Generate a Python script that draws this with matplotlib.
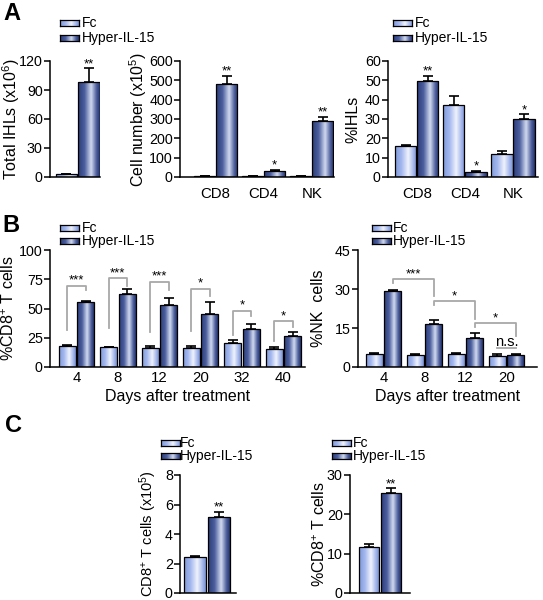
import numpy as np
import matplotlib
matplotlib.use('Agg')
import matplotlib.pyplot as plt
from matplotlib.colors import LinearSegmentedColormap

plt.rcParams['font.family'] = ['Liberation Sans', 'DejaVu Sans']
plt.rcParams['mathtext.fontset'] = 'custom'
plt.rcParams['mathtext.rm'] = 'Liberation Sans'
plt.rcParams['mathtext.it'] = 'Liberation Sans:italic'
plt.rcParams['mathtext.bf'] = 'Liberation Sans:bold'

# ---------------- data ----------------
series = ['Fc', 'Hyper-IL-15']

a1_fc, a1_fc_err = [2.8], [0.7]
a1_hy, a1_hy_err = [98.6], [13.8]
a1_sig = ['**']

a_cats = ['CD8', 'CD4', 'NK']
a2_fc, a2_fc_err = [3.5, 5.0, 3.5], [1.0, 1.5, 1.0]
a2_hy, a2_hy_err = [481, 29, 291], [43, 6, 20]
a2_sig = ['**', '*', '**']

a3_fc, a3_fc_err = [15.9, 37.4, 11.7], [0.4, 4.5, 1.7]
a3_hy, a3_hy_err = [49.7, 2.6, 30.0], [2.4, 0.5, 2.4]
a3_sig = ['**', '*', '*']

b_days = ['4', '8', '12', '20', '32', '40']
b_cd8_fc, b_cd8_fc_err = [17.6, 16.8, 16.2, 16.2, 20.5, 15.6], [1.2, 0.5, 1.4, 1.4, 2.2, 1.2]
b_cd8_hy, b_cd8_hy_err = [55.4, 62.2, 53.1, 45.5, 32.7, 26.7], [1.4, 4.3, 6.3, 10.2, 4.2, 3.1]
b_cd8_sig = ['***', '***', '***', '*', '*', '*']
b_cd8_br_top = [69.3, 75.9, 73.0, 66.8, 48.0, 38.9]
b_cd8_br_left = [32.0, 33.0, 30.0, 31.0, 27.6, 21.9]
b_cd8_br_right = [65.5, 69.0, 66.0, 60.5, 43.7, 34.0]

b_nk_days = ['4', '8', '12', '20']
b_nk_fc, b_nk_fc_err = [5.1, 4.5, 5.1, 4.2], [0.2, 0.6, 0.4, 0.9]
b_nk_hy, b_nk_hy_err = [29.1, 16.7, 11.2, 4.5], [0.6, 1.4, 1.7, 0.4]
b_nk_sig = ['***', '*', '*']
b_nk_br_top = [33.8, 25.3, 16.9]
b_nk_br_left = [32.3, 24.0, 15.4]
b_nk_br_right = [27.2, 18.6, 11.8]
b_nk_ns_y = 7.3

c_num_fc, c_num_fc_err = [2.43], [0.09]
c_num_hy, c_num_hy_err = [5.13], [0.37]
c_pct_fc, c_pct_fc_err = [11.8], [0.7]
c_pct_hy, c_pct_hy_err = [25.4], [1.2]

# ---------------- style ----------------
W, H = 543, 600
fig = plt.figure(figsize=(W / 100, H / 100), dpi=100)

cmap_fc = LinearSegmentedColormap.from_list('fc', [
    (0.0, '#8099d8'), (0.3, '#a4b8ee'), (0.6, '#f0f3fd'), (0.85, '#a3b6ea'), (1.0, '#7890d4')])
cmap_hy = LinearSegmentedColormap.from_list('hy', [
    (0.0, '#2c3b78'), (0.3, '#4b5e9e'), (0.6, '#d2daf0'), (0.85, '#4a5c9a'), (1.0, '#25336c')])
grad = np.linspace(0, 1, 256).reshape(1, -1)
GRAY = '#a8a8a8'
TICK_FS = 10.3
LAB_FS = 11.5
STAR_FS = 9.5


def px_axes(x0, y0, x1, y1):
    return fig.add_axes([x0 / W, 1 - y1 / H, (x1 - x0) / W, (y1 - y0) / H])


def grad_bars(ax, xs, vals, errs, width, cmap):
    bars = ax.bar(xs, vals, width, facecolor='none', edgecolor='black', linewidth=0.9, zorder=3)
    for b in bars:
        x0, w, h = b.get_x(), b.get_width(), b.get_height()
        im = ax.imshow(grad, extent=[x0, x0 + w, 0, h], aspect='auto', cmap=cmap,
                       interpolation='bilinear', zorder=2)
        im.set_clip_path(b)
    ax.errorbar(xs, vals, yerr=[np.zeros(len(vals)), errs], fmt='none', ecolor='black',
                elinewidth=1.2, capsize=3.3, capthick=1.2, zorder=4)


def style_axes(ax, yticks, ylim, xlim, ylabel, label_x_px, ax_x0, ax_x1, xpad, lab_fs=LAB_FS):
    ax.set_xlim(*xlim)
    ax.set_ylim(*ylim)
    ax.set_yticks(yticks)
    for s in ['top', 'right']:
        ax.spines[s].set_visible(False)
    for s in ['left', 'bottom']:
        ax.spines[s].set_linewidth(1.1)
    ax.tick_params(axis='y', direction='out', length=4, width=1.1, labelsize=TICK_FS, pad=1.2)
    ax.tick_params(axis='x', length=0, labelsize=TICK_FS + 0.5, pad=xpad)
    ax.set_ylabel(ylabel, fontsize=lab_fs, va='center')
    ax.yaxis.set_label_coords((label_x_px - ax_x0) / (ax_x1 - ax_x0), 0.5)


def star(ax, x, y, s, fs=STAR_FS, off=1.0):
    ax.annotate(s, (x, y), xytext=(0, off), textcoords='offset points',
                ha='center', va='baseline', fontsize=fs)


def legend(xp0, yc1, yc2, xt, pw=19, ph=6, fs=10):
    for yc, cm, name in [(yc1, cmap_fc, series[0]), (yc2, cmap_hy, series[1])]:
        lax = px_axes(xp0, yc - ph / 2, xp0 + pw, yc + ph / 2)
        lax.imshow(grad, aspect='auto', cmap=cm, extent=[0, 1, 0, 1], interpolation='bilinear')
        lax.set_xticks([]); lax.set_yticks([])
        for s in lax.spines.values():
            s.set_linewidth(0.9)
        fig.text(xt / W, 1 - yc / H, name, fontsize=fs, va='center', ha='left')


# ---------------- Panel A ----------------
ax = px_axes(50, 61, 100, 177)
grad_bars(ax, [0], a1_fc, a1_fc_err, 0.92, cmap_fc)
grad_bars(ax, [1], a1_hy, a1_hy_err, 0.92, cmap_hy)
style_axes(ax, [0, 30, 60, 90, 120], (0, 120), (-0.70, 1.48), 'Total IHLs (x10$^{6}$)', 11, 50, 100, 6)
ax.set_xticks([])
star(ax, 1, a1_hy[0] + a1_hy_err[0], a1_sig[0])

off = 0.229
xa = np.arange(len(a_cats))
ax = px_axes(180, 61, 334, 177)
grad_bars(ax, xa - off, a2_fc, a2_fc_err, 0.44, cmap_fc)
grad_bars(ax, xa + off, a2_hy, a2_hy_err, 0.44, cmap_hy)
style_axes(ax, range(0, 601, 100), (0, 600), (-0.74, 2.46), 'Cell number (x10$^{5}$)', 138, 180, 334, 7)
ax.set_xticks(xa)
ax.set_xticklabels(a_cats)
for i in range(len(a_cats)):
    star(ax, xa[i] + off, a2_hy[i] + a2_hy_err[i], a2_sig[i])

ax = px_axes(388, 61, 538, 177)
grad_bars(ax, xa - off, a3_fc, a3_fc_err, 0.44, cmap_fc)
grad_bars(ax, xa + off, a3_hy, a3_hy_err, 0.44, cmap_hy)
style_axes(ax, range(0, 61, 10), (0, 60), (-0.60, 2.52), '%IHLs', 353, 388, 538, 7)
ax.set_xticks(xa)
ax.set_xticklabels(a_cats)
for i in range(len(a_cats)):
    star(ax, xa[i] + off, a3_hy[i] + a3_hy_err[i], a3_sig[i])

legend(60, 23, 38, 82)
legend(393, 23, 38, 415)
fig.text(3 / W, 1 - 14 / H, 'A', fontsize=17, fontweight='bold', va='center', ha='left')

# ---------------- Panel B ----------------
offb = 0.223
xb = np.arange(len(b_days))
ax = px_axes(50, 250, 305, 367)
grad_bars(ax, xb - offb, b_cd8_fc, b_cd8_fc_err, 0.41, cmap_fc)
grad_bars(ax, xb + offb, b_cd8_hy, b_cd8_hy_err, 0.41, cmap_hy)
style_axes(ax, [0, 25, 50, 75, 100], (0, 100), (-0.64, 5.52), '%CD8$^{+}$ T cells', 9, 50, 305, 3)
ax.set_xticks(xb)
ax.set_xticklabels(b_days)
ax.set_xlabel('Days after treatment', fontsize=LAB_FS, labelpad=2.5)
for i in range(len(b_days)):
    xl, xr = xb[i] - offb, xb[i] + offb
    ax.plot([xl, xl, xr, xr], [b_cd8_br_left[i], b_cd8_br_top[i], b_cd8_br_top[i], b_cd8_br_right[i]],
            color=GRAY, lw=1.3, zorder=1)
    star(ax, xb[i], b_cd8_br_top[i], b_cd8_sig[i], off=1.5)

xn = np.arange(len(b_nk_days))
ax = px_axes(358, 250, 537, 367)
grad_bars(ax, xn - offb, b_nk_fc, b_nk_fc_err, 0.41, cmap_fc)
grad_bars(ax, xn + offb, b_nk_hy, b_nk_hy_err, 0.41, cmap_hy)
style_axes(ax, [0, 15, 30, 45], (0, 45), (-0.62, 3.74), '%NK  cells', 318.5, 358, 537, 3)
ax.set_xticks(xn)
ax.set_xticklabels(b_nk_days)
ax.set_xlabel('Days after treatment', fontsize=LAB_FS, labelpad=2.5)
for i in range(len(b_nk_sig)):
    xl, xr = xn[i] + offb, xn[i + 1] + offb
    ax.plot([xl, xl, xr, xr], [b_nk_br_left[i], b_nk_br_top[i], b_nk_br_top[i], b_nk_br_right[i]],
            color=GRAY, lw=1.3, zorder=1)
    star(ax, (xl + xr) / 2, b_nk_br_top[i], b_nk_sig[i], off=1.5)
ax.plot([xn[-1] - offb, xn[-1] + offb], [b_nk_ns_y, b_nk_ns_y], color=GRAY, lw=1.3)
ax.annotate('n.s.', (xn[-1], b_nk_ns_y), xytext=(0, 1.5), textcoords='offset points',
            ha='center', va='baseline', fontsize=10.5)

legend(60, 228, 241, 82)
legend(372, 228, 241, 393)
fig.text(2 / W, 1 - 225 / H, 'B', fontsize=17, fontweight='bold', va='center', ha='left')

# ---------------- Panel C ----------------
ax = px_axes(180, 475, 236, 593)
grad_bars(ax, [0], c_num_fc, c_num_fc_err, 0.89, cmap_fc)
grad_bars(ax, [1], c_num_hy, c_num_hy_err, 0.89, cmap_hy)
style_axes(ax, [0, 2, 4, 6, 8], (0, 8), (-0.62, 1.71), 'CD8$^{+}$ T cells (x10$^{5}$)', 148, 180, 236, 6,
           lab_fs=10.5)
ax.set_xticks([])
star(ax, 1, c_num_hy[0] + c_num_hy_err[0], '**')

ax = px_axes(350, 475, 410, 593)
grad_bars(ax, [0], c_pct_fc, c_pct_fc_err, 0.89, cmap_fc)
grad_bars(ax, [1], c_pct_hy, c_pct_hy_err, 0.89, cmap_hy)
style_axes(ax, [0, 10, 20, 30], (0, 30), (-0.86, 1.86), '%CD8$^{+}$ T cells', 320, 350, 410, 6)
ax.set_xticks([])
star(ax, 1, c_pct_hy[0] + c_pct_hy_err[0], '**')

legend(161, 442.6, 455.7, 180)
legend(332, 442.6, 455.7, 353)
fig.text(5 / W, 1 - 426 / H, 'C', fontsize=17, fontweight='bold', va='center', ha='left')

fig.savefig('out.png', dpi=100)
